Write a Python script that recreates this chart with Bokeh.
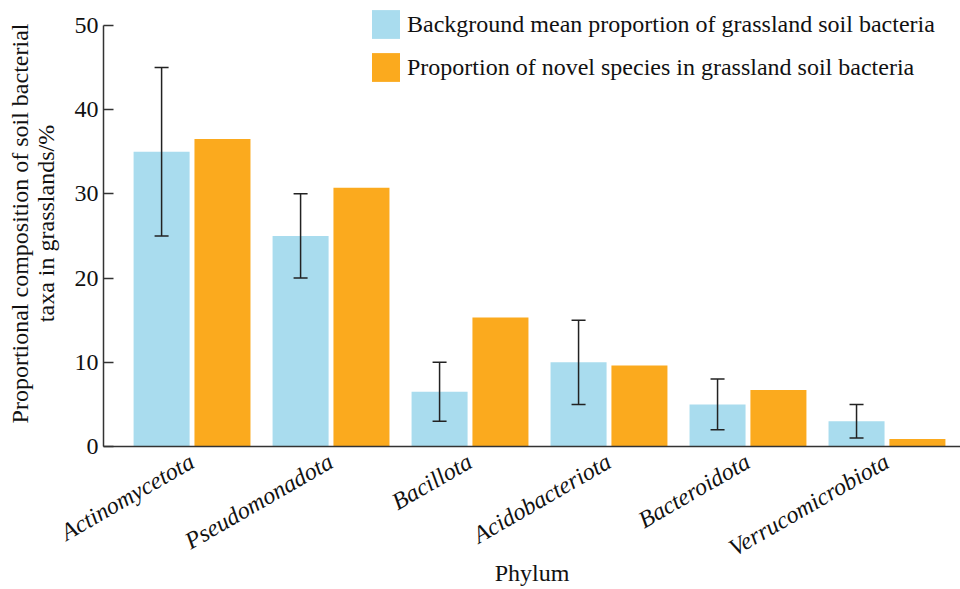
from math import pi
from bokeh.plotting import figure
from bokeh.models import (ColumnDataSource, Whisker, TeeHead, Range1d, FixedTicker,
                          Legend, LegendItem)
from bokeh.embed import file_html
from bokeh.resources import INLINE

phyla = ["Actinomycetota", "Pseudomonadota", "Bacillota", "Acidobacteriota",
         "Bacteroidota", "Verrucomicrobiota"]
background_mean = [35, 25, 6.5, 10, 5, 3]
background_lower = [25, 20, 3, 5, 2, 1]
background_upper = [45, 30, 10, 15, 8, 5]
novel_proportion = [36.5, 30.7, 15.3, 9.6, 6.7, 0.9]
y_ticks = [0, 10, 20, 30, 40, 50]

label_bg = "Background mean proportion of grassland soil bacteria"
label_novel = "Proportion of novel species in grassland soil bacteria"

BLUE = "#A9DCEE"
ORANGE = "#FBAA1E"
FONT = "Liberation Serif"

idx = list(range(len(phyla)))
offset = 0.219
bar_w = 0.403

src = ColumnDataSource(dict(
    xb=[i - offset for i in idx],
    xn=[i + offset for i in idx],
    bg=background_mean, lo=background_lower, up=background_upper,
    nv=novel_proportion,
))

p = figure(width=960, height=589, output_backend="svg", toolbar_location=None,
           x_range=Range1d(-0.637, 5.529), y_range=Range1d(0, 52.94),
           min_border_left=103, min_border_right=0, min_border_top=0, min_border_bottom=139)
p.outline_line_color = None
p.xgrid.visible = False
p.ygrid.visible = False

r_bg = p.vbar(x="xb", top="bg", width=bar_w, source=src, fill_color=BLUE, line_color=None)
r_nv = p.vbar(x="xn", top="nv", width=bar_w, source=src, fill_color=ORANGE, line_color=None)

w = Whisker(base="xb", lower="lo", upper="up", source=src, level="annotation",
            line_color="#222222", line_width=1.5,
            upper_head=TeeHead(size=14, line_color="#222222", line_width=1.5),
            lower_head=TeeHead(size=14, line_color="#222222", line_width=1.5))
p.add_layout(w)

# axes
p.yaxis.ticker = FixedTicker(ticks=y_ticks)
p.yaxis.bounds = (0, 50)
p.yaxis.major_tick_in = 10
p.yaxis.major_tick_out = 0
p.yaxis.minor_tick_line_color = None
p.yaxis.major_label_standoff = 5
p.yaxis.major_label_text_font = FONT
p.yaxis.major_label_text_font_size = "24px"
p.yaxis.major_label_text_color = "#111111"
p.yaxis.axis_line_color = "#333333"
p.yaxis.axis_line_width = 1.5
p.yaxis.major_tick_line_color = "#333333"
p.yaxis.major_tick_line_width = 1.5
p.yaxis.axis_label = "Proportional composition of soil bacterial\ntaxa in grasslands/%"
p.yaxis.axis_label_text_font = FONT
p.yaxis.axis_label_text_font_style = "normal"
p.yaxis.axis_label_text_font_size = "24px"
p.yaxis.axis_label_text_color = "#111111"
p.yaxis.axis_label_text_line_height = 1.0
p.yaxis.axis_label_standoff = 13

p.xaxis.ticker = FixedTicker(ticks=idx)
p.xaxis.major_label_overrides = {i: n for i, n in enumerate(phyla)}
p.xaxis.major_label_orientation = pi / 6
p.xaxis.major_tick_in = 0
p.xaxis.major_tick_out = 0
p.xaxis.minor_tick_line_color = None
p.xaxis.major_label_standoff = 13
p.xaxis.major_label_text_font = FONT
p.xaxis.major_label_text_font_style = "italic"
p.xaxis.major_label_text_font_size = "24px"
p.xaxis.major_label_text_color = "#111111"
p.xaxis.axis_line_color = "#333333"
p.xaxis.axis_line_width = 1.5
p.xaxis.axis_label = "Phylum"
p.xaxis.axis_label_text_font = FONT
p.xaxis.axis_label_text_font_style = "normal"
p.xaxis.axis_label_text_font_size = "24px"
p.xaxis.axis_label_text_color = "#111111"
p.xaxis.axis_label_standoff = -15

legend = Legend(items=[LegendItem(label=label_bg, renderers=[r_bg]),
                       LegendItem(label=label_novel, renderers=[r_nv])],
                location=(265, 361), padding=0, margin=0, spacing=7,
                glyph_width=35, glyph_height=36, label_height=36, label_standoff=4,
                label_text_font=FONT, label_text_font_size="24px", label_text_color="#111111",
                border_line_color=None, background_fill_alpha=0)
p.add_layout(legend)

open("out.html", "w").write(file_html(p, INLINE))
